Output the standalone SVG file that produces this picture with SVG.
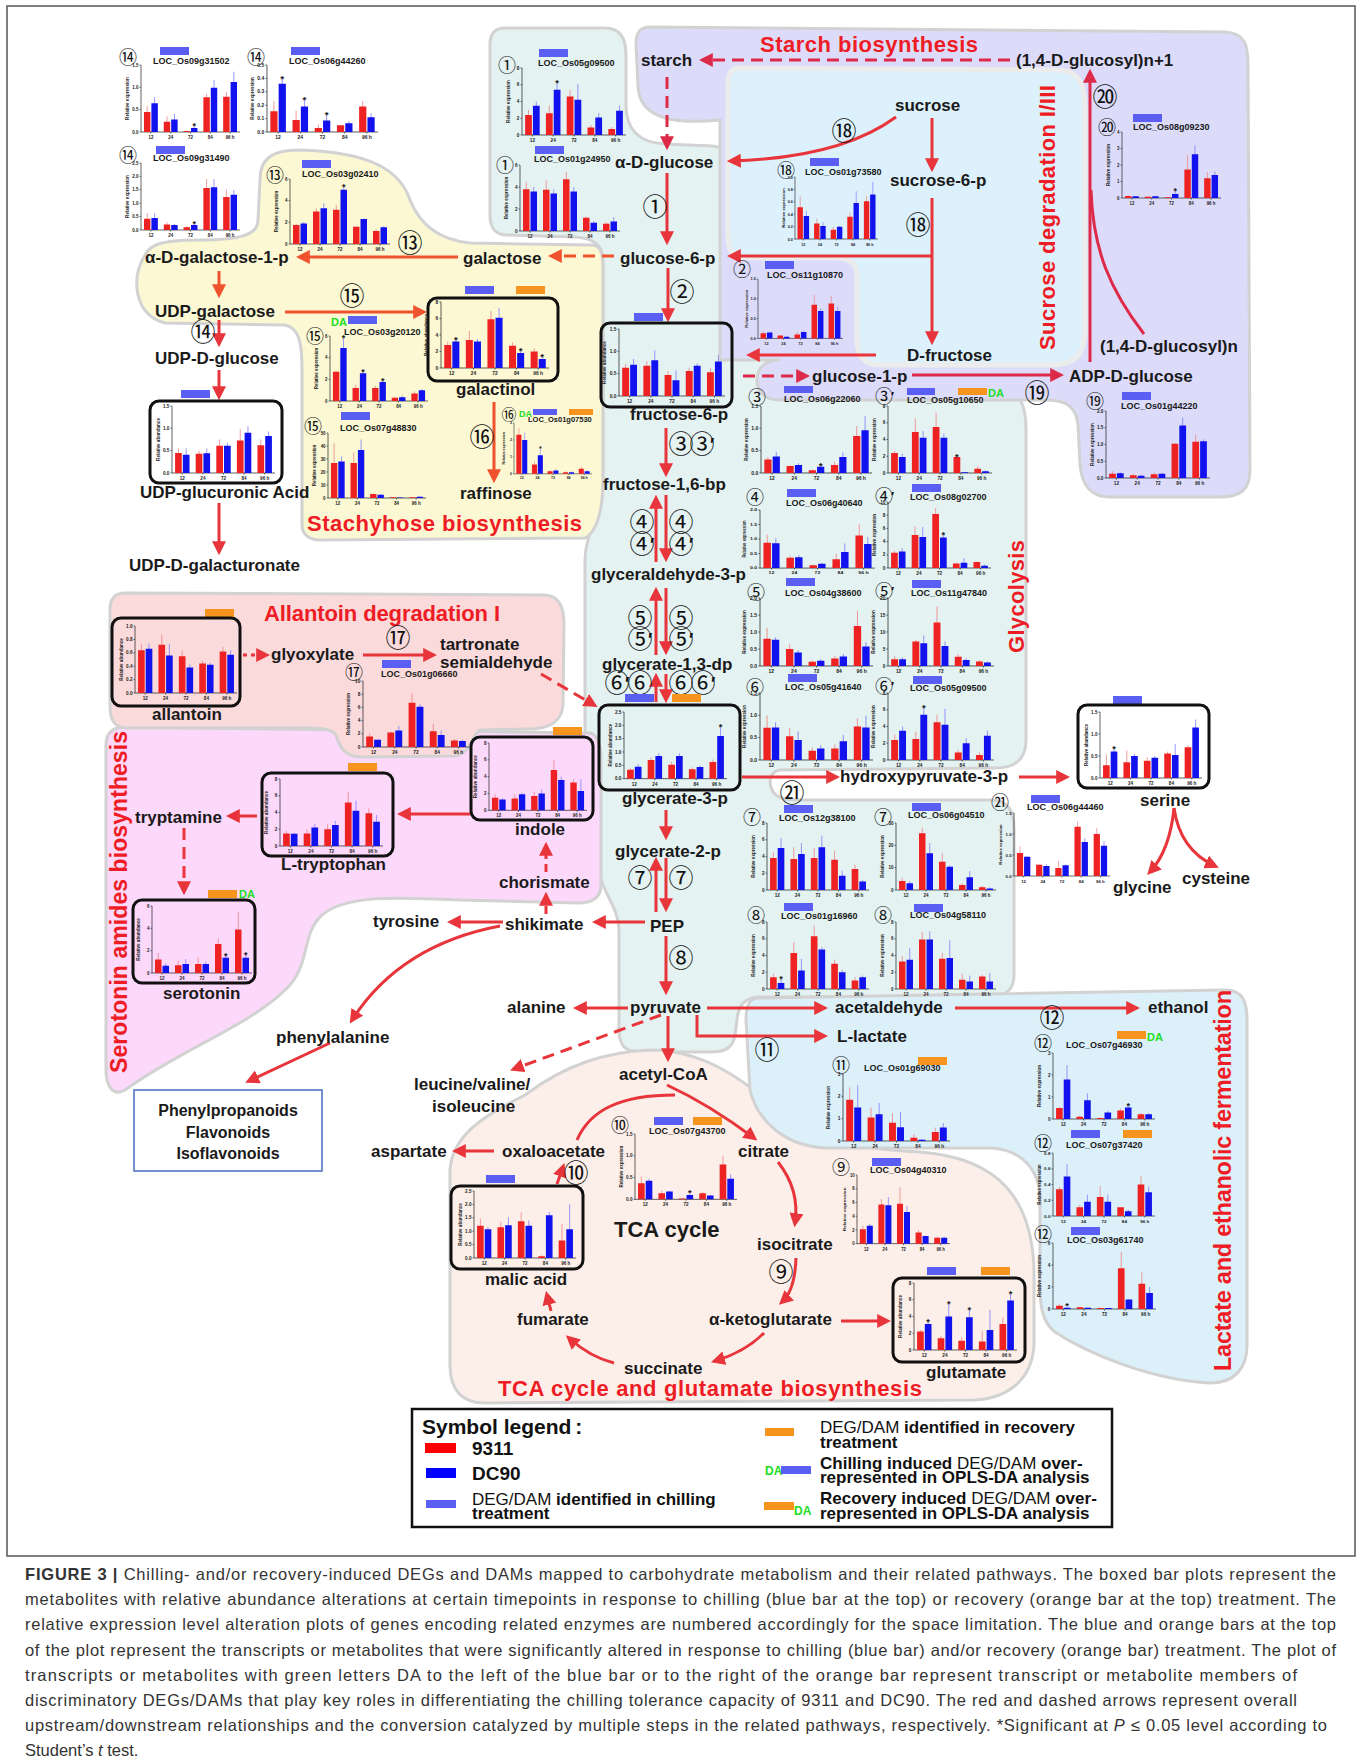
<svg xmlns="http://www.w3.org/2000/svg" width="1361" height="1764" viewBox="0 0 1361 1764">
<defs>
<style>
.n{font-family:"Liberation Sans",Arial,sans-serif;font-weight:bold;font-size:17px;fill:#1a1a1a}
.t{font-family:"Liberation Sans",Arial,sans-serif;font-weight:bold;font-size:22px;fill:#ee1c24}
.cn{font-family:"Noto Sans CJK SC","DejaVu Sans",sans-serif;font-size:25px;fill:#111;text-anchor:middle}
.cs{font-family:"Noto Sans CJK SC","DejaVu Sans",sans-serif;font-size:18px;fill:#111;text-anchor:middle}
.pr{font-family:"Liberation Sans",Arial,sans-serif;font-weight:bold;font-size:18px;fill:#111}
.prs{font-family:"Liberation Sans",Arial,sans-serif;font-weight:bold;font-size:13px;fill:#111}
.loc{font-family:"Liberation Sans",Arial,sans-serif;font-weight:bold;font-size:9px;fill:#1a1a1a}
.mb{fill:#5a5ef2}
.mo{fill:#f7941e}
.da{font-family:"Liberation Sans",Arial,sans-serif;font-weight:bold;font-size:11px;fill:#22dd22}
.ct{font-family:"Liberation Sans",Arial,sans-serif;font-size:4.5px;font-weight:bold;fill:#222}
.r{fill:#ee2222}
.b{fill:#1212ee}
.er{stroke:#f08585;stroke-width:0.8;fill:none}
.eb{stroke:#8080ff;stroke-width:0.8;fill:none}
.st{font-size:9px;text-anchor:middle}
.bx{fill:none;stroke:#111;stroke-width:3}
.c{fill:none;stroke:#e8353b;stroke-width:3}
.co{fill:none;stroke:#f0522d;stroke-width:3}
.cp{fill:none;stroke:#dc2a48;stroke-width:3}
.d{stroke-dasharray:12 7}
.rg{stroke:#d2d2d2;stroke-width:3}
.cap{font-family:"Liberation Sans",Arial,sans-serif;font-size:16.5px;fill:#333}
.lg{font-family:"Liberation Sans",Arial,sans-serif;font-weight:bold;font-size:17px;fill:#111}
</style>
<marker id="ah" viewBox="0 0 10 10" refX="7" refY="5" markerWidth="14" markerHeight="14" markerUnits="userSpaceOnUse" orient="auto"><path d="M0,0L10,5L0,10z" fill="#e8353b"/></marker>
<marker id="aho" viewBox="0 0 10 10" refX="7" refY="5" markerWidth="14" markerHeight="14" markerUnits="userSpaceOnUse" orient="auto"><path d="M0,0L10,5L0,10z" fill="#f0522d"/></marker>
<marker id="ahp" viewBox="0 0 10 10" refX="7" refY="5" markerWidth="14" markerHeight="14" markerUnits="userSpaceOnUse" orient="auto"><path d="M0,0L10,5L0,10z" fill="#dc2a48"/></marker>
<g id="fr"><path d="M0,0V66H100M10,66v1.5M30,66v1.5M50,66v1.5M70,66v1.5M90,66v1.5" stroke="#222" stroke-width="0.7" fill="none"/><g text-anchor="middle"><text x="10" y="73">12</text><text x="30" y="73">24</text><text x="50" y="73">72</text><text x="70" y="73">84</text><text x="90" y="73">96 h</text></g></g>
<path id="t6" d="M-1.5,0h1.5M-1.5,13.2h1.5M-1.5,26.4h1.5M-1.5,39.6h1.5M-1.5,52.8h1.5M-1.5,66h1.5" stroke="#222" stroke-width="0.6"/>
<path id="t5" d="M-1.5,0h1.5M-1.5,16.5h1.5M-1.5,33h1.5M-1.5,49.5h1.5M-1.5,66h1.5" stroke="#222" stroke-width="0.6"/>
<path id="t4" d="M-1.5,0h1.5M-1.5,22h1.5M-1.5,44h1.5M-1.5,66h1.5" stroke="#222" stroke-width="0.6"/>
<g id="y15" text-anchor="end"><use href="#t4"/><text x="-2.5" y="1.6">1.5</text><text x="-2.5" y="23.6">1.0</text><text x="-2.5" y="45.6">0.5</text><text x="-2.5" y="67.6">0.0</text></g>
<g id="y6" text-anchor="end"><use href="#t4"/><text x="-2.5" y="1.6">6</text><text x="-2.5" y="23.6">4</text><text x="-2.5" y="45.6">2</text><text x="-2.5" y="67.6">0</text></g>
<g id="y3" text-anchor="end"><use href="#t4"/><text x="-2.5" y="1.6">3</text><text x="-2.5" y="23.6">2</text><text x="-2.5" y="45.6">1</text><text x="-2.5" y="67.6">0</text></g>
<g id="y30" text-anchor="end"><use href="#t4"/><text x="-2.5" y="1.6">30</text><text x="-2.5" y="23.6">20</text><text x="-2.5" y="45.6">10</text><text x="-2.5" y="67.6">0</text></g>
<g id="y8" text-anchor="end"><use href="#t5"/><text x="-2.5" y="1.6">8</text><text x="-2.5" y="18.1">6</text><text x="-2.5" y="34.6">4</text><text x="-2.5" y="51.1">2</text><text x="-2.5" y="67.6">0</text></g>
<g id="y2" text-anchor="end"><use href="#t5"/><text x="-2.5" y="1.6">2.0</text><text x="-2.5" y="18.1">1.5</text><text x="-2.5" y="34.6">1.0</text><text x="-2.5" y="51.1">0.5</text><text x="-2.5" y="67.6">0.0</text></g>
<g id="y4" text-anchor="end"><use href="#t5"/><text x="-2.5" y="1.6">4</text><text x="-2.5" y="18.1">3</text><text x="-2.5" y="34.6">2</text><text x="-2.5" y="51.1">1</text><text x="-2.5" y="67.6">0</text></g>
<g id="y20" text-anchor="end"><use href="#t5"/><text x="-2.5" y="1.6">20</text><text x="-2.5" y="18.1">15</text><text x="-2.5" y="34.6">10</text><text x="-2.5" y="51.1">5</text><text x="-2.5" y="67.6">0</text></g>
<g id="y08" text-anchor="end"><use href="#t5"/><text x="-2.5" y="1.6">0.8</text><text x="-2.5" y="18.1">0.6</text><text x="-2.5" y="34.6">0.4</text><text x="-2.5" y="51.1">0.2</text><text x="-2.5" y="67.6">0.0</text></g>
<g id="y05" text-anchor="end"><use href="#t6"/><text x="-2.5" y="1.6">0.5</text><text x="-2.5" y="14.8">0.4</text><text x="-2.5" y="28">0.3</text><text x="-2.5" y="41.2">0.2</text><text x="-2.5" y="54.4">0.1</text><text x="-2.5" y="67.6">0.0</text></g>
<g id="y25" text-anchor="end"><use href="#t6"/><text x="-2.5" y="1.6">2.5</text><text x="-2.5" y="14.8">2.0</text><text x="-2.5" y="28">1.5</text><text x="-2.5" y="41.2">1.0</text><text x="-2.5" y="54.4">0.5</text><text x="-2.5" y="67.6">0.0</text></g>
<g id="y10" text-anchor="end"><use href="#t6"/><text x="-2.5" y="1.6">10</text><text x="-2.5" y="14.8">8</text><text x="-2.5" y="28">6</text><text x="-2.5" y="41.2">4</text><text x="-2.5" y="54.4">2</text><text x="-2.5" y="67.6">0</text></g>
<g id="y1" text-anchor="end"><use href="#t6"/><text x="-2.5" y="1.6">1.0</text><text x="-2.5" y="14.8">0.8</text><text x="-2.5" y="28">0.6</text><text x="-2.5" y="41.2">0.4</text><text x="-2.5" y="54.4">0.2</text><text x="-2.5" y="67.6">0.0</text></g>
<g id="y50" text-anchor="end"><use href="#t6"/><text x="-2.5" y="1.6">50</text><text x="-2.5" y="14.8">40</text><text x="-2.5" y="28">30</text><text x="-2.5" y="41.2">20</text><text x="-2.5" y="54.4">10</text><text x="-2.5" y="67.6">0</text></g>
<text id="yle" transform="rotate(-90)" x="-33" y="-12" text-anchor="middle">Relative expression</text>
<text id="yla" transform="rotate(-90)" x="-33" y="-12" text-anchor="middle">Relative abundance</text>
</defs>

<rect width="1361" height="1764" fill="#fff"/>
<rect x="7" y="6" width="1348" height="1550" fill="none" stroke="#555" stroke-width="1.5"/>

<g id="regions">
<path id="reg-glycolysis" class="rg" fill="#e4f2f1" d="M505,28L605,28C620,28 626,38 626,55L626,105C626,130 640,143 665,144L712,146C728,147 733,158 733,175L733,250C733,257 738,260 748,260L835,261C848,262 853,270 853,285L853,388L1000,388C1020,390 1026,405 1026,430L1026,740C1026,760 1015,768 995,768L780,770C770,772 768,780 772,790C776,798 785,800 800,800L990,800C1008,800 1014,810 1014,830L1014,975C1014,990 1005,997 990,997L760,997C745,997 738,1005 737,1020L735,1035C733,1048 725,1052 710,1052L640,1052C625,1052 619,1045 619,1030L619,930C619,905 598,890 598,860L598,800C598,780 585,760 585,730L585,560C585,535 600,515 603,490L603,260C603,245 592,238 575,237L508,235C495,235 490,228 490,215L490,45C490,33 495,28 505,28Z"/>
<path id="reg-starch" class="rg" fill="#dcdcfa" d="M650,27L1225,32C1245,33 1248,45 1248,65L1250,470C1250,490 1240,497 1220,497L1110,497C1090,497 1082,485 1080,465L1078,425C1076,405 1065,400 1045,400L780,400C762,400 757,390 757,380C757,368 765,360 780,360L720,360L720,120C700,122 680,122 665,118C645,112 638,100 638,85L636,45C636,32 640,27 650,27Z"/>
<path id="reg-sucrose" fill="#dcf1fb" stroke="#ececec" stroke-width="5" d="M740,68L1060,70C1080,72 1085,85 1085,110L1085,330C1085,355 1075,365 1050,365L880,365C862,365 857,355 857,340L857,275C857,262 848,258 835,258L745,258C732,258 728,250 728,235L728,85C728,72 732,68 740,68Z"/>
<path id="reg-stachyose" class="rg" fill="#fbf8d3" d="M145,255C130,280 135,315 165,323L285,325C300,328 302,345 302,370L302,525C302,535 310,540 320,540L585,538C600,530 603,500 603,480L603,270C603,250 600,245 590,245L470,243C440,240 420,225 410,200C400,170 370,152 300,150C270,150 260,160 260,180L258,220C258,235 240,240 200,240C160,240 150,245 145,255Z"/>
<path id="reg-serotonin" class="rg" fill="#fcd8fa" d="M125,727L590,733C598,735 601,745 601,760L601,885C601,897 593,903 578,903L460,900C395,897 345,895 322,915C300,935 312,965 285,990C250,1025 180,1050 125,1090C112,1097 106,1085 106,1070L106,745C106,733 112,727 125,727Z"/>
<path id="reg-allantoin" class="rg" fill="#fadadb" d="M125,593L545,595C560,596 564,608 564,625L563,705C562,722 548,729 528,729L480,730C472,735 472,752 455,756L362,757C345,757 340,748 336,735C333,730 325,728 310,728L128,728C114,728 110,720 110,705L110,610C110,598 115,593 125,593Z"/>
<path id="reg-tca" class="rg" fill="#fcefe9" d="M525,1095C565,1065 605,1052 650,1050C705,1050 745,1080 790,1120C815,1140 850,1148 920,1152C1000,1158 1032,1200 1034,1270L1034,1345C1032,1378 1010,1398 975,1400L485,1403C462,1403 450,1390 450,1365L450,1170C452,1135 485,1115 525,1095Z"/>
<path id="reg-fermentation" class="rg" fill="#dcf0fa" d="M758,998L1225,990C1243,990 1247,1002 1247,1020L1247,1345C1247,1368 1235,1383 1210,1383C1150,1380 1085,1352 1055,1332C1042,1322 1040,1305 1040,1285L1040,1200C1040,1170 1022,1150 992,1148L830,1148C785,1148 757,1120 750,1090L746,1020C746,1005 750,998 758,998Z"/>
</g>

<g id="region-titles">
<text class="t" x="760" y="52" textLength="218">Starch biosynthesis</text>
<text class="t" x="1055" y="350" transform="rotate(-90 1055 350)" textLength="265">Sucrose degradation I/III</text>
<text class="t" x="1024" y="653" transform="rotate(-90 1024 653)" textLength="113">Glycolysis</text>
<text class="t" x="307" y="531" textLength="275">Stachyhose biosynthesis</text>
<text class="t" x="264" y="621" textLength="236">Allantoin degradation I</text>
<text class="t" x="127" y="1073" transform="rotate(-90 127 1073)" style="font-size:23px" textLength="342">Serotonin amides biosynthesis</text>
<text class="t" x="1231" y="1371" transform="rotate(-90 1231 1371)" style="font-size:23.5px" textLength="381">Lactate and ethanolic fermentation</text>
<text class="t" x="498" y="1396" textLength="424">TCA cycle and glutamate biosynthesis</text>
</g>

<g id="connectors">
<path class="co" marker-end="url(#aho)" d="M458,257H300"/>
<path class="co" marker-end="url(#aho)" d="M219,271V294"/>
<path class="co" marker-end="url(#aho)" d="M285,312H423"/>
<path class="c" marker-end="url(#ah)" d="M219,320V343"/>
<path class="c" marker-end="url(#ah)" d="M219,370V396"/>
<path class="c" marker-end="url(#ah)" d="M219,503V551"/>
<path class="co" marker-end="url(#aho)" d="M494,402V479"/>
<path class="co d" marker-end="url(#aho)" d="M614,256H552"/>
<path class="cp d" marker-end="url(#ahp)" d="M667,77V146"/>
<path class="cp d" marker-end="url(#ahp)" d="M1010,60H703"/>
<path class="c" marker-end="url(#ah)" d="M896,117Q840,158 731,161"/>
<path class="c" marker-end="url(#ah)" d="M932,118V168"/>
<path class="c" marker-end="url(#ah)" d="M932,198V341"/>
<path class="c" marker-end="url(#ah)" d="M932,256H731"/>
<path class="c" marker-end="url(#ah)" d="M667,173V241"/>
<path class="c" marker-end="url(#ah)" d="M668,268V318"/>
<path class="c" marker-end="url(#ah)" d="M876,355H750"/>
<path class="cp d" marker-end="url(#ahp)" d="M743,376H806"/>
<path class="cp" marker-end="url(#ahp)" d="M912,375H1060"/>
<path class="cp" marker-end="url(#ahp)" d="M1090,362V73"/>
<path class="cp" d="M1144,334C1110,290 1093,250 1091,190"/>
<path class="c" marker-end="url(#ah)" d="M666,428V473"/>
<path class="c" marker-end="url(#ah)" d="M656,562V499"/>
<path class="c" marker-end="url(#ah)" d="M666,495V558"/>
<path class="c" marker-end="url(#ah)" d="M656,655V591"/>
<path class="c" marker-end="url(#ah)" d="M666,588V651"/>
<path class="c" marker-end="url(#ah)" d="M656,702V677"/>
<path class="c" marker-end="url(#ah)" d="M666,674V699"/>
<path class="c" marker-end="url(#ah)" d="M666,810V836"/>
<path class="c" marker-end="url(#ah)" d="M656,912V861"/>
<path class="c" marker-end="url(#ah)" d="M666,858V908"/>
<path class="c" marker-end="url(#ah)" d="M666,936V991"/>
<path class="c" marker-end="url(#ah)" d="M645,922H596"/>
<path class="c" marker-end="url(#ah)" d="M503,922H451"/>
<path class="c" marker-end="url(#ah)" d="M500,926Q400,945 352,1020"/>
<path class="c" marker-end="url(#ah)" d="M330,1043L249,1081"/>
<path class="c" marker-end="url(#ah)" d="M546,914V896" style="stroke-dasharray:8 5"/>
<path class="c" marker-end="url(#ah)" d="M546,872V846" style="stroke-dasharray:8 5"/>
<path class="c" marker-end="url(#ah)" d="M470,814H401"/>
<path class="c" marker-end="url(#ah)" d="M257,816H230"/>
<path class="c d" marker-end="url(#ah)" d="M184,828V891"/>
<path class="c" marker-end="url(#ah)" d="M243,655H266" style="stroke-dasharray:4 4"/>
<path class="c" marker-end="url(#ah)" d="M363,655H433"/>
<path class="c d" marker-end="url(#ah)" d="M541,674L594,705"/>
<path class="c" marker-end="url(#ah)" d="M742,777H836"/>
<path class="c" marker-end="url(#ah)" d="M1019,777H1066"/>
<path class="c" marker-end="url(#ah)" d="M1174,808Q1170,850 1150,872"/>
<path class="c" marker-end="url(#ah)" d="M1174,808Q1180,850 1215,866"/>
<path class="c" marker-end="url(#ah)" d="M628,1008H577"/>
<path class="c" marker-end="url(#ah)" d="M707,1008H824"/>
<path class="c" marker-end="url(#ah)" d="M697,1015V1036H824"/>
<path class="c d" marker-end="url(#ah)" d="M661,1015L514,1069"/>
<path class="c" marker-end="url(#ah)" d="M668,1016V1058"/>
<path class="c" marker-end="url(#ah)" d="M955,1008H1136"/>
<path class="c" marker-end="url(#ah)" d="M667,1085Q710,1105 754,1138"/>
<path class="c" d="M577,1140C590,1110 620,1095 675,1095"/>
<path class="c" marker-end="url(#ah)" d="M494,1151H456"/>
<path class="c" marker-end="url(#ah)" d="M778,1162Q800,1190 795,1223"/>
<path class="c" marker-end="url(#ah)" d="M796,1258Q795,1290 782,1302"/>
<path class="c" marker-end="url(#ah)" d="M764,1333Q745,1352 715,1361"/>
<path class="c" marker-end="url(#ah)" d="M614,1363Q590,1357 569,1338"/>
<path class="c" marker-end="url(#ah)" d="M551,1311L547,1295"/>
<path class="c" marker-end="url(#ah)" d="M557,1184L563,1167"/>
<path class="c" marker-end="url(#ah)" d="M841,1321H887"/>
</g>

<g id="step-labels">
<text class="cn" x="410" y="252">⑬</text>
<text class="cn" x="352" y="305">⑮</text>
<text class="cn" x="203" y="341">⑭</text>
<text class="cn" x="482" y="446">⑯</text>
<text class="cn" x="398" y="647">⑰</text>
<text class="cn" x="655" y="216">①</text>
<text class="cn" x="682" y="301">②</text>
<text class="cn" x="681" y="453">③</text><text class="cn" x="702" y="453">③</text><text class="pr" x="710" y="451">′</text>
<text class="cn" x="642" y="531">④</text><text class="cn" x="681" y="531">④</text>
<text class="cn" x="642" y="553">④</text><text class="pr" x="650" y="551">′</text><text class="cn" x="681" y="553">④</text><text class="pr" x="689" y="551">′</text>
<text class="cn" x="640" y="627">⑤</text><text class="cn" x="681" y="627">⑤</text>
<text class="cn" x="640" y="648">⑤</text><text class="pr" x="648" y="646">′</text><text class="cn" x="681" y="648">⑤</text><text class="pr" x="689" y="646">′</text>
<text class="cn" x="617" y="692">⑥</text><text class="pr" x="625" y="690">′</text><text class="cn" x="640" y="692">⑥</text><text class="cn" x="681" y="692">⑥</text><text class="cn" x="703" y="692">⑥</text><text class="pr" x="711" y="690">′</text>
<text class="cn" x="640" y="887">⑦</text><text class="cn" x="681" y="887">⑦</text>
<text class="cn" x="681" y="967">⑧</text>
<text class="cn" x="781" y="1281">⑨</text>
<text class="cn" x="576" y="1182">⑩</text>
<text class="cn" x="767" y="1059">⑪</text>
<text class="cn" x="1052" y="1027">⑫</text>
<text class="cn" x="844" y="140">⑱</text>
<text class="cn" x="918" y="234">⑱</text>
<text class="cn" x="1037" y="402">⑲</text>
<text class="cn" x="1105" y="106">⑳</text>
<text class="cn" x="792" y="802">㉑</text>
</g>

<g id="compounds">
<g id="node-starch"><text class="n" x="641" y="66">starch</text></g>
<g id="node-glucosyl-n1"><text class="n" x="1016" y="66">(1,4-D-glucosyl)n+1</text></g>
<g id="node-sucrose"><text class="n" x="895" y="111">sucrose</text></g>
<g id="node-sucrose-6-p"><text class="n" x="890" y="186">sucrose-6-p</text></g>
<g id="node-d-fructose"><text class="n" x="907" y="361">D-fructose</text></g>
<g id="node-glucosyl-n"><text class="n" x="1100" y="352">(1,4-D-glucosyl)n</text></g>
<g id="node-adp-glucose"><text class="n" x="1069" y="382">ADP-D-glucose</text></g>
<g id="node-glucose-1-p"><text class="n" x="812" y="382">glucose-1-p</text></g>
<g id="node-a-glucose"><text class="n" x="615" y="168">α-D-glucose</text></g>
<g id="node-glucose-6-p"><text class="n" x="620" y="264">glucose-6-p</text></g>
<g id="node-galactose"><text class="n" x="463" y="264">galactose</text></g>
<g id="node-galactose-1-p"><text class="n" x="145" y="263">α-D-galactose-1-p</text></g>
<g id="node-udp-galactose"><text class="n" x="155" y="317">UDP-galactose</text></g>
<g id="node-udp-glucose"><text class="n" x="155" y="364">UDP-D-glucose</text></g>
<g id="node-udp-galacturonate"><text class="n" x="129" y="571">UDP-D-galacturonate</text></g>
<g id="node-raffinose"><text class="n" x="460" y="499">raffinose</text></g>
<g id="node-fructose-16-bp"><text class="n" x="603" y="490">fructose-1,6-bp</text></g>
<g id="node-gap"><text class="n" x="591" y="580">glyceraldehyde-3-p</text></g>
<g id="node-bpg"><text class="n" x="602" y="670">glycerate-1,3-dp</text></g>
<g id="node-2pg"><text class="n" x="615" y="857">glycerate-2-p</text></g>
<g id="node-pep"><text class="n" x="650" y="932">PEP</text></g>
<g id="node-pyruvate"><text class="n" x="630" y="1013">pyruvate</text></g>
<g id="node-alanine"><text class="n" x="507" y="1013">alanine</text></g>
<g id="node-acetaldehyde"><text class="n" x="835" y="1013">acetaldehyde</text></g>
<g id="node-lactate"><text class="n" x="837" y="1042">L-lactate</text></g>
<g id="node-ethanol"><text class="n" x="1148" y="1013">ethanol</text></g>
<g id="node-acetyl-coa"><text class="n" x="619" y="1080">acetyl-CoA</text></g>
<g id="node-bcaa"><text class="n" x="414" y="1090">leucine/valine/</text><text class="n" x="432" y="1112">isoleucine</text></g>
<g id="node-aspartate"><text class="n" x="371" y="1157">aspartate</text></g>
<g id="node-oxaloacetate"><text class="n" x="502" y="1157">oxaloacetate</text></g>
<g id="node-citrate"><text class="n" x="738" y="1157">citrate</text></g>
<g id="node-tca"><text class="n" x="614" y="1237" style="font-size:22px">TCA cycle</text></g>
<g id="node-isocitrate"><text class="n" x="757" y="1250">isocitrate</text></g>
<g id="node-akg"><text class="n" x="709" y="1325">α-ketoglutarate</text></g>
<g id="node-succinate"><text class="n" x="624" y="1374">succinate</text></g>
<g id="node-fumarate"><text class="n" x="517" y="1325">fumarate</text></g>
<g id="node-hydroxypyruvate"><text class="n" x="840" y="782">hydroxypyruvate-3-p</text></g>
<g id="node-glycine"><text class="n" x="1113" y="893">glycine</text></g>
<g id="node-cysteine"><text class="n" x="1182" y="884">cysteine</text></g>
<g id="node-shikimate"><text class="n" x="505" y="930">shikimate</text></g>
<g id="node-chorismate"><text class="n" x="499" y="888">chorismate</text></g>
<g id="node-tyrosine"><text class="n" x="373" y="927">tyrosine</text></g>
<g id="node-phenylalanine"><text class="n" x="276" y="1043">phenylalanine</text></g>
<g id="node-tryptamine"><text class="n" x="135" y="823">tryptamine</text></g>
<g id="node-glyoxylate"><text class="n" x="271" y="660">glyoxylate</text></g>
<g id="node-tartronate"><text class="n" x="440" y="650">tartronate</text><text class="n" x="440" y="668">semialdehyde</text></g>
<g id="node-phenylpropanoids"><rect x="134" y="1090" width="188" height="81" fill="#fff" stroke="#4a6bbf" stroke-width="1.5"/><text class="n" x="228" y="1116" text-anchor="middle" style="font-size:16px">Phenylpropanoids</text><text class="n" x="228" y="1138" text-anchor="middle" style="font-size:16px">Flavonoids</text><text class="n" x="228" y="1159" text-anchor="middle" style="font-size:16px">Isoflavonoids</text></g>
</g>

<g id="gene-plots">
<g id="plot-14a"><text class="cs" x="128" y="64">⑭</text><rect class="mb" x="160" y="47" width="29" height="8"/><text class="loc" x="153" y="64">LOC_Os09g31502</text>
<g class="ct" transform="translate(141,65) scale(0.99,1.015)"><use href="#fr"/><use href="#y15"/><use href="#yle"/>
<path class="er" d="M6.25,66v-25.5m20,25.5v-15.4m20,15.4v-1.5m20,1.5v-37.4m20,37.4v-39.6"/><path class="eb" d="M13.75,66v-34.3m20,34.3v-18m20,18v-6.6m20,6.6v-51.5m20,51.5v-59.4"/>
<path class="r" d="M3,66v-19.8h6.5v19.8zm20,0v-10.1h6.5v10.1zm20,0v-0.9h6.5v0.9zm20,0v-34.3h6.5v34.3zm20,0v-34.8h6.5v34.8z"/><path class="b" d="M10.5,66v-28.2h6.5v28.2zm20,0v-12.3h6.5v12.3zm20,0v-4h6.5v4zm20,0v-43.6h6.5v43.6zm20,0v-49.3h6.5v49.3z"/>
<text class="st" x="53.75" y="62.9">*</text></g></g>

<g id="plot-14b"><text class="cs" x="256" y="64">⑭</text><rect class="mb" x="291" y="47" width="29" height="8"/><text class="loc" x="289" y="64">LOC_Os06g44260</text>
<g class="ct" transform="translate(267,65) scale(1.11,1.015)"><use href="#fr"/><use href="#y05"/><use href="#yle"/>
<path class="er" d="M6.25,66v-30.4m20,30.4v-21.1m20,21.1v-7.3m20,7.3v-6.6m20,6.6v-30.4"/><path class="eb" d="M13.75,66v-52.8m20,52.8v-31.7m20,31.7v-17.2m20,17.2v-10.6m20,10.6v-18.5"/>
<path class="r" d="M3,66v-20.5h6.5v20.5zm20,0v-11.9h6.5v11.9zm20,0v-4h6.5v4zm20,0v-6.6h6.5v6.6zm20,0v-25.1h6.5v25.1z"/><path class="b" d="M10.5,66v-47.5h6.5v47.5zm20,0v-25.1h6.5v25.1zm20,0v-11.2h6.5v11.2zm20,0v-8.6h6.5v8.6zm20,0v-14.5h6.5v14.5z"/>
<text class="st" x="13.75" y="16.7">*</text><text class="st" x="33.75" y="37.8">*</text><text class="st" x="53.75" y="52.3">*</text></g></g>

<g id="plot-14c"><text class="cs" x="128" y="162">⑭</text><rect class="mb" x="156" y="146" width="29" height="8"/><text class="loc" x="153" y="161">LOC_Os09g31490</text>
<g class="ct" transform="translate(141,163) scale(0.99,1.015)"><use href="#fr"/><use href="#y25"/><use href="#yle"/>
<path class="er" d="M6.25,66v-16.6m20,16.6v-7.4m20,7.4v-4m20,4v-50.2m20,50.2v-40.1"/><path class="eb" d="M13.75,66v-16.4m20,16.4v-5.8m20,5.8v-6.6m20,6.6v-50.2m20,50.2v-39.6"/>
<path class="r" d="M3,66v-11.1h6.5v11.1zm20,0v-5.3h6.5v5.3zm20,0v-2.6h6.5v2.6zm20,0v-41.4h6.5v41.4zm20,0v-32.5h6.5v32.5z"/><path class="b" d="M10.5,66v-11.9h6.5v11.9zm20,0v-5h6.5v5zm20,0v-4.8h6.5v4.8zm20,0v-42.2h6.5v42.2zm20,0v-34.6h6.5v34.6z"/>
<text class="st" x="53.75" y="62.9">*</text></g></g>

<g id="plot-13"><text class="cs" x="275" y="182">⑬</text><rect class="mb" x="302" y="160" width="29" height="8"/><text class="loc" x="302" y="177">LOC_Os03g02410</text>
<g class="ct" transform="translate(290,179) scale(1,0.985)"><use href="#fr"/><use href="#y6"/><use href="#yle"/>
<path class="er" d="M6.25,66v-20.4m20,20.4v-36.3m20,36.3v-39.6m20,39.6v-18.2m20,18.2v-14.9"/><path class="eb" d="M13.75,66v-22.6m20,22.6v-41.3m20,41.3v-58m20,58v-25.9m20,25.9v-18.2"/>
<path class="r" d="M3,66v-19.3h6.5v19.3zm20,0v-33h6.5v33zm20,0v-34.7h6.5v34.7zm20,0v-17.6h6.5v17.6zm20,0v-13.2h6.5v13.2z"/><path class="b" d="M10.5,66v-20.9h6.5v20.9zm20,0v-36.3h6.5v36.3zm20,0v-55h6.5v55zm20,0v-25.3h6.5v25.3zm20,0v-17.1h6.5v17.1z"/>
<text class="st" x="53.75" y="11.5">*</text></g></g>

<g id="plot-1a"><text class="cs" x="507" y="72">①</text><rect class="mb" x="539" y="49" width="29" height="8"/><text class="loc" x="538" y="66">LOC_Os05g09500</text>
<g class="ct" transform="translate(522,68) scale(1.04,1.015)"><use href="#fr"/><use href="#y8"/><use href="#yle"/>
<path class="er" d="M6.25,66v-24.8m20,24.8v-28.9m20,28.9v-44.6m20,44.6v-9.9m20,9.9v-7.8"/><path class="eb" d="M13.75,66v-33m20,33v-52m20,52v-50.3m20,50.3v-21.5m20,21.5v-28.9"/>
<path class="r" d="M3,66v-19.8h6.5v19.8zm20,0v-21.5h6.5v21.5zm20,0v-38h6.5v38zm20,0v-7.4h6.5v7.4zm20,0v-5.8h6.5v5.8z"/><path class="b" d="M10.5,66v-28.9h6.5v28.9zm20,0v-44.6h6.5v44.6zm20,0v-34.7h6.5v34.7zm20,0v-17.3h6.5v17.3zm20,0v-23.9h6.5v23.9z"/>
<text class="st" x="33.75" y="17.5">*</text></g></g>

<g id="plot-1b"><text class="cs" x="505" y="172">①</text><rect class="mb" x="535" y="146" width="29" height="8"/><text class="loc" x="534" y="162">LOC_Os01g24950</text>
<g class="ct" transform="translate(520,165)"><use href="#fr"/><use href="#y6"/><use href="#yle"/>
<path class="er" d="M6.25,66v-49.5m20,49.5v-50.6m20,50.6v-59.4m20,59.4v-14.3m20,14.3v-8.8"/><path class="eb" d="M13.75,66v-44m20,44v-41.8m20,41.8v-44m20,44v-9.9m20,9.9v-13.8"/>
<path class="r" d="M3,66v-41.8h6.5v41.8zm20,0v-41.3h6.5v41.3zm20,0v-51.7h6.5v51.7zm20,0v-13.2h6.5v13.2zm20,0v-7.2h6.5v7.2z"/><path class="b" d="M10.5,66v-39.6h6.5v39.6zm20,0v-37.4h6.5v37.4zm20,0v-39.6h6.5v39.6zm20,0v-8.3h6.5v8.3zm20,0v-9.4h6.5v9.4z"/></g></g>

<g id="plot-18"><text class="cs" x="786" y="177">⑱</text><rect class="mb" x="810" y="158" width="29" height="8"/><text class="loc" x="805" y="175">LOC_Os01g73580</text>
<g class="ct" transform="translate(795,177) scale(0.83,0.94)"><use href="#fr"/><use href="#y1"/><use href="#yle"/>
<path class="er" d="M6.25,66v-45.5m20,45.5v-21.8m20,21.8v-13.2m20,13.2v-28.4m20,28.4v-45.5"/><path class="eb" d="M13.75,66v-29.7m20,29.7v-17.8m20,17.8v-13.9m20,13.9v-50.8m20,50.8v-60.7"/>
<path class="r" d="M3,66v-33.7h6.5v33.7zm20,0v-16.5h6.5v16.5zm20,0v-9.9h6.5v9.9zm20,0v-23.8h6.5v23.8zm20,0v-40.3h6.5v40.3z"/><path class="b" d="M10.5,66v-24.4h6.5v24.4zm20,0v-13.9h6.5v13.9zm20,0v-13.2h6.5v13.2zm20,0v-38.3h6.5v38.3zm20,0v-47.5h6.5v47.5z"/></g></g>

<g id="plot-2"><text class="cs" x="742" y="276">②</text><rect class="mb" x="765" y="261" width="29" height="8"/><text class="loc" x="767" y="278">LOC_Os11g10870</text>
<g class="ct" transform="translate(758,279) scale(0.85,0.9)"><use href="#fr"/><use href="#y15"/><use href="#yle"/>
<path class="er" d="M6.25,66v-7.9m20,7.9v-3.5m20,3.5v-7.5m20,7.5v-48.4m20,48.4v-47.5"/><path class="eb" d="M13.75,66v-7.5m20,7.5v-2.2m20,2.2v-8.8m20,8.8v-33.4m20,33.4v-35.2"/>
<path class="r" d="M3,66v-5.7h6.5v5.7zm20,0v-3.1h6.5v3.1zm20,0v-4.4h6.5v4.4zm20,0v-37.4h6.5v37.4zm20,0v-38.7h6.5v38.7z"/><path class="b" d="M10.5,66v-6.6h6.5v6.6zm20,0v-1.8h6.5v1.8zm20,0v-7h6.5v7zm20,0v-30.4h6.5v30.4zm20,0v-30.4h6.5v30.4z"/></g></g>

<g id="plot-20"><text class="cs" x="1107" y="134">⑳</text><rect class="mb" x="1133" y="114" width="29" height="8"/><text class="loc" x="1133" y="130">LOC_Os08g09230</text>
<g class="ct" transform="translate(1122,132) scale(0.99,1)"><use href="#fr"/><use href="#y4"/><use href="#yle"/>
<path class="er" d="M6.25,66v-2.5m20,2.5v-1.7m20,1.7v-1.2m20,1.2v-42.9m20,42.9v-25.6"/><path class="eb" d="M13.75,66v-2m20,2v-2m20,2v-7.4m20,7.4v-52.8m20,52.8v-26.4"/>
<path class="r" d="M3,66v-2h6.5v2zm20,0v-1.2h6.5v1.2zm20,0v-0.8h6.5v0.8zm20,0v-28.4h6.5v28.4zm20,0v-19.8h6.5v19.8z"/><path class="b" d="M10.5,66v-1.7h6.5v1.7zm20,0v-1.7h6.5v1.7zm20,0v-4.1h6.5v4.1zm20,0v-43.7h6.5v43.7zm20,0v-23.1h6.5v23.1z"/>
<text class="st" x="53.75" y="62.1">*</text></g></g>

<g id="plot-15a"><text class="cs" x="315" y="343">⑮</text><text class="da" x="331" y="326">DA</text><rect class="mb" x="348" y="316" width="29" height="8"/><text class="loc" x="344" y="335">LOC_Os03g20120</text>
<g class="ct" transform="translate(330,336) scale(0.98,0.985)"><use href="#fr"/><use href="#y6"/><use href="#yle"/>
<path class="er" d="M6.25,66v-30.8m20,30.8v-16.5m20,16.5v-15.4m20,15.4v-4.4m20,4.4v-9.9"/><path class="eb" d="M13.75,66v-64.9m20,64.9v-29.7m20,29.7v-20.9m20,20.9v-5.5m20,5.5v-12.1"/>
<path class="r" d="M3,66v-29.7h6.5v29.7zm20,0v-13.2h6.5v13.2zm20,0v-13.2h6.5v13.2zm20,0v-3.3h6.5v3.3zm20,0v-7.7h6.5v7.7z"/><path class="b" d="M10.5,66v-53.9h6.5v53.9zm20,0v-28.1h6.5v28.1zm20,0v-19.3h6.5v19.3zm20,0v-3.9h6.5v3.9zm20,0v-11h6.5v11z"/>
<text class="st" x="13.75" y="4.6">*</text><text class="st" x="33.75" y="39.8">*</text><text class="st" x="53.75" y="48.6">*</text></g></g>

<g id="plot-15b"><text class="cs" x="313" y="433">⑮</text><rect class="mb" x="341" y="412" width="29" height="8"/><text class="loc" x="340" y="431">LOC_Os07g48830</text>
<g class="ct" transform="translate(328,433) scale(0.98,0.985)"><use href="#fr"/><use href="#y50"/><use href="#yle"/>
<path class="er" d="M6.25,66v-55.4m20,55.4v-46.2m20,46.2v-4.6m20,4.6v-0.9m20,0.9v-1.1"/><path class="eb" d="M13.75,66v-42.2m20,42.2v-59.4m20,59.4v-4m20,4v-0.7m20,0.7v-1.6"/>
<path class="r" d="M3,66v-35.6h6.5v35.6zm20,0v-35.6h6.5v35.6zm20,0v-4h6.5v4zm20,0v-0.7h6.5v0.7zm20,0v-0.7h6.5v0.7z"/><path class="b" d="M10.5,66v-37h6.5v37zm20,0v-48.8h6.5v48.8zm20,0v-3.3h6.5v3.3zm20,0v-0.4h6.5v0.4zm20,0v-1.3h6.5v1.3z"/></g></g>

<g id="plot-16"><text class="cs" x="509" y="420" style="font-size:15px">⑯</text><text class="da" x="519" y="417" style="font-size:9px">DA</text><rect class="mb" x="533" y="409" width="24" height="6"/><rect class="mo" x="569" y="409" width="24" height="6"/><text class="loc" x="528" y="422" style="font-size:7.5px">LOC_Os01g07530</text>
<g class="ct" transform="translate(514,423) scale(0.78,0.77)"><use href="#fr"/><use href="#y3"/><use href="#yle"/>
<path class="er" d="M6.25,66v-59.4m20,59.4v-16.5m20,16.5v-4.4m20,4.4v-3.3m20,3.3v-8.8"/><path class="eb" d="M13.75,66v-53.9m20,53.9v-33m20,33v-5.5m20,5.5v-3.3m20,3.3v-4.4"/>
<path class="r" d="M3,66v-50.6h6.5v50.6zm20,0v-12.1h6.5v12.1zm20,0v-3.3h6.5v3.3zm20,0v-2.2h6.5v2.2zm20,0v-6.6h6.5v6.6z"/><path class="b" d="M10.5,66v-44h6.5v44zm20,0v-24.2h6.5v24.2zm20,0v-4.4h6.5v4.4zm20,0v-2.2h6.5v2.2zm20,0v-3.3h6.5v3.3z"/>
<text class="st" x="33.75" y="36.5">*</text></g></g>

<g id="plot-19"><text class="cs" x="1095" y="408">⑲</text><rect class="mb" x="1122" y="392" width="29" height="8"/><text class="loc" x="1121" y="409">LOC_Os01g44220</text>
<g class="ct" transform="translate(1106,411) scale(1.04,1.015)"><use href="#fr"/><use href="#y2"/><use href="#yle"/>
<path class="er" d="M6.25,66v-6.6m20,6.6v-4.3m20,4.3v-5m20,5v-34.7m20,34.7v-42.9"/><path class="eb" d="M13.75,66v-5.6m20,5.6v-3.3m20,3.3v-5.3m20,5.3v-59.4m20,59.4v-38"/>
<path class="r" d="M3,66v-4.3h6.5v4.3zm20,0v-2.6h6.5v2.6zm20,0v-3.6h6.5v3.6zm20,0v-33.7h6.5v33.7zm20,0v-35.6h6.5v35.6z"/><path class="b" d="M10.5,66v-4.6h6.5v4.6zm20,0v-2.3h6.5v2.3zm20,0v-4.3h6.5v4.3zm20,0v-51.8h6.5v51.8zm20,0v-36.3h6.5v36.3z"/></g></g>

<g id="plot-3"><text class="cs" x="757" y="404">③</text><rect class="mb" x="784" y="386" width="29" height="7"/><text class="loc" x="784" y="402">LOC_Os06g22060</text>
<g class="ct" transform="translate(761,406) scale(1.11,1.015)"><use href="#fr"/><use href="#y15"/><use href="#yle"/>
<path class="er" d="M6.25,66v-15.8m20,15.8v-7.5m20,7.5v-3.1m20,3.1v-11m20,11v-46.2"/><path class="eb" d="M13.75,66v-20.7m20,20.7v-9.7m20,9.7v-7.5m20,7.5v-20.2m20,20.2v-55.9"/>
<path class="r" d="M3,66v-13.2h6.5v13.2zm20,0v-7h6.5v7zm20,0v-2.6h6.5v2.6zm20,0v-7.9h6.5v7.9zm20,0v-36.5h6.5v36.5z"/><path class="b" d="M10.5,66v-16.3h6.5v16.3zm20,0v-7.9h6.5v7.9zm20,0v-6.2h6.5v6.2zm20,0v-15.8h6.5v15.8zm20,0v-42.2h6.5v42.2z"/>
<text class="st" x="53.75" y="62">*</text></g></g>

<g id="plot-3p"><text class="cs" x="884" y="403">③</text><text class="prs" x="891" y="401">′</text><rect class="mb" x="907" y="388" width="28" height="7"/><rect class="mo" x="958" y="388" width="29" height="7"/><text class="da" x="988" y="397">DA</text><text class="loc" x="907" y="403">LOC_Os05g10650</text>
<g class="ct" transform="translate(888,406) scale(1.04,1.015)"><use href="#fr"/><use href="#y8"/><use href="#yle"/>
<path class="er" d="M6.25,66v-21.5m20,21.5v-53.6m20,53.6v-59.4m20,59.4v-16.5m20,16.5v-6.6"/><path class="eb" d="M13.75,66v-19m20,19v-41.3m20,41.3v-38.8m20,38.8v-1.2m20,1.2v-2.5"/>
<path class="r" d="M3,66v-19.8h6.5v19.8zm20,0v-40.4h6.5v40.4zm20,0v-45.4h6.5v45.4zm20,0v-15.7h6.5v15.7zm20,0v-4.1h6.5v4.1z"/><path class="b" d="M10.5,66v-15.7h6.5v15.7zm20,0v-34.7h6.5v34.7zm20,0v-34.7h6.5v34.7zm20,0v-0.8h6.5v0.8zm20,0v-1.7h6.5v1.7z"/>
<text class="st" x="66.25" y="53">*</text></g></g>

<g id="plot-4"><text class="cs" x="755" y="504">④</text><rect class="mb" x="787" y="489" width="29" height="8"/><text class="loc" x="786" y="506">LOC_Os06g40640</text>
<g class="ct" transform="translate(760,510) scale(1.15,0.88)"><use href="#fr"/><use href="#y2"/><use href="#yle"/>
<path class="er" d="M6.25,66v-38m20,38v-13.9m20,13.9v-4m20,4v-16.5m20,16.5v-49.5"/><path class="eb" d="M13.75,66v-34m20,34v-14.9m20,14.9v-5.9m20,5.9v-28.1m20,28.1v-35.3"/>
<path class="r" d="M3,66v-28.7h6.5v28.7zm20,0v-11.6h6.5v11.6zm20,0v-3.3h6.5v3.3zm20,0v-9.9h6.5v9.9zm20,0v-37h6.5v37z"/><path class="b" d="M10.5,66v-28.1h6.5v28.1zm20,0v-12.2h6.5v12.2zm20,0v-5h6.5v5zm20,0v-18.2h6.5v18.2zm20,0v-27.4h6.5v27.4z"/></g></g>

<g id="plot-4p"><text class="cs" x="884" y="503">④</text><text class="prs" x="891" y="501">′</text><rect class="mb" x="912" y="484" width="29" height="8"/><text class="loc" x="910" y="500">LOC_Os08g02700</text>
<g class="ct" transform="translate(888,502) scale(1.03,1)"><use href="#fr"/><use href="#y10"/><use href="#yle"/>
<path class="er" d="M6.25,66v-17.2m20,17.2v-41.6m20,41.6v-60.1m20,60.1v-5.3m20,5.3v-6.6"/><path class="eb" d="M13.75,66v-19.8m20,19.8v-40.9m20,40.9v-33m20,33v-9.9m20,9.9v-3.3"/>
<path class="r" d="M3,66v-15.2h6.5v15.2zm20,0v-33h6.5v33zm20,0v-54.1h6.5v54.1zm20,0v-4.6h6.5v4.6zm20,0v-5.9h6.5v5.9z"/><path class="b" d="M10.5,66v-16.5h6.5v16.5zm20,0v-31h6.5v31zm20,0v-30.4h6.5v30.4zm20,0v-5.3h6.5v5.3zm20,0v-2.3h6.5v2.3z"/>
<text class="st" x="53.75" y="36.5">*</text></g></g>

<g id="plot-5"><text class="cs" x="756" y="599">⑤</text><rect class="mb" x="786" y="578" width="29" height="8"/><text class="loc" x="785" y="596">LOC_Os04g38600</text>
<g class="ct" transform="translate(760,598) scale(1.13,1.03)"><use href="#fr"/><use href="#y2"/><use href="#yle"/>
<path class="er" d="M6.25,66v-37m20,37v-20.8m20,20.8v-5m20,5v-9.9m20,9.9v-53.5"/><path class="eb" d="M13.75,66v-27.7m20,27.7v-15.5m20,15.5v-6.6m20,6.6v-11.6m20,11.6v-23.1"/>
<path class="r" d="M3,66v-26.4h6.5v26.4zm20,0v-16.5h6.5v16.5zm20,0v-4h6.5v4zm20,0v-7.3h6.5v7.3zm20,0v-38.9h6.5v38.9z"/><path class="b" d="M10.5,66v-25.4h6.5v25.4zm20,0v-13.2h6.5v13.2zm20,0v-5h6.5v5zm20,0v-9.2h6.5v9.2zm20,0v-18.8h6.5v18.8z"/></g></g>

<g id="plot-5p"><text class="cs" x="884" y="598">⑤</text><text class="prs" x="891" y="596">′</text><rect class="mb" x="912" y="580" width="29" height="8"/><text class="loc" x="911" y="596">LOC_Os11g47840</text>
<g class="ct" transform="translate(888,598) scale(1.06,1.03)"><use href="#fr"/><use href="#y20"/><use href="#yle"/>
<path class="er" d="M6.25,66v-9.9m20,9.9v-25.1m20,25.1v-57.8m20,57.8v-11.6m20,11.6v-5.6"/><path class="eb" d="M13.75,66v-8.3m20,8.3v-29.7m20,29.7v-23.8m20,23.8v-7.6m20,7.6v-4.3"/>
<path class="r" d="M3,66v-6.6h6.5v6.6zm20,0v-23.8h6.5v23.8zm20,0v-42.2h6.5v42.2zm20,0v-8.9h6.5v8.9zm20,0v-4.3h6.5v4.3z"/><path class="b" d="M10.5,66v-6.6h6.5v6.6zm20,0v-22.1h6.5v22.1zm20,0v-19.5h6.5v19.5zm20,0v-5.9h6.5v5.9zm20,0v-3.3h6.5v3.3z"/></g></g>

<g id="plot-6"><text class="cs" x="755" y="694">⑥</text><rect class="mb" x="788" y="674" width="29" height="8"/><text class="loc" x="785" y="690">LOC_Os05g41640</text>
<g class="ct" transform="translate(760,693) scale(1.13,1.015)"><use href="#fr"/><use href="#y15"/><use href="#yle"/>
<path class="er" d="M6.25,66v-44m20,44v-31.7m20,31.7v-12.3m20,12.3v-15.4m20,15.4v-40.9"/><path class="eb" d="M13.75,66v-37m20,37v-28.2m20,28.2v-14.5m20,14.5v-24.6m20,24.6v-43.6"/>
<path class="r" d="M3,66v-31.7h6.5v31.7zm20,0v-23.3h6.5v23.3zm20,0v-9.2h6.5v9.2zm20,0v-11.4h6.5v11.4zm20,0v-33h6.5v33z"/><path class="b" d="M10.5,66v-32.1h6.5v32.1zm20,0v-19.8h6.5v19.8zm20,0v-11.4h6.5v11.4zm20,0v-18.5h6.5v18.5zm20,0v-32.1h6.5v32.1z"/></g></g>

<g id="plot-6p"><text class="cs" x="884" y="693">⑥</text><text class="prs" x="891" y="691">′</text><rect class="mb" x="913" y="676" width="29" height="8"/><text class="loc" x="910" y="691">LOC_Os05g09500</text>
<g class="ct" transform="translate(888,693) scale(1.06,1.015)"><use href="#fr"/><use href="#y8"/><use href="#yle"/>
<path class="er" d="M6.25,66v-24.8m20,24.8v-28m20,28v-44.6m20,44.6v-9.9m20,9.9v-7.4"/><path class="eb" d="M13.75,66v-33m20,33v-52m20,52v-50.3m20,50.3v-21.5m20,21.5v-28.9"/>
<path class="r" d="M3,66v-19.8h6.5v19.8zm20,0v-20.6h6.5v20.6zm20,0v-37.1h6.5v37.1zm20,0v-7.4h6.5v7.4zm20,0v-5h6.5v5z"/><path class="b" d="M10.5,66v-28.9h6.5v28.9zm20,0v-44.6h6.5v44.6zm20,0v-34.7h6.5v34.7zm20,0v-16.5h6.5v16.5zm20,0v-23.9h6.5v23.9z"/>
<text class="st" x="33.75" y="17.5">*</text></g></g>

<g id="plot-7a"><text class="cs" x="752" y="824">⑦</text><rect class="mb" x="784" y="805" width="29" height="8"/><text class="loc" x="779" y="821">LOC_Os12g38100</text>
<g class="ct" transform="translate(767,823) scale(1.02,1.015)"><use href="#fr"/><use href="#y8"/><use href="#yle"/>
<path class="er" d="M6.25,66v-37.1m20,37.1v-42.1m20,42.1v-41.3m20,41.3v-38.8m20,38.8v-24.8"/><path class="eb" d="M13.75,66v-51.2m20,51.2v-46.2m20,46.2v-53.6m20,53.6v-19m20,19v-9.9"/>
<path class="r" d="M3,66v-31.4h6.5v31.4zm20,0v-30.5h6.5v30.5zm20,0v-31.4h6.5v31.4zm20,0v-29.7h6.5v29.7zm20,0v-20.6h6.5v20.6z"/><path class="b" d="M10.5,66v-41.3h6.5v41.3zm20,0v-35.5h6.5v35.5zm20,0v-42.1h6.5v42.1zm20,0v-14h6.5v14zm20,0v-8.3h6.5v8.3z"/></g></g>

<g id="plot-7b"><text class="cs" x="883" y="824">⑦</text><rect class="mb" x="912" y="803" width="29" height="8"/><text class="loc" x="908" y="818">LOC_Os06g04510</text>
<g class="ct" transform="translate(896,823) scale(1,1.015)"><use href="#fr"/><use href="#y30"/><use href="#yle"/>
<path class="er" d="M6.25,66v-12.1m20,12.1v-61.6m20,61.6v-36.3m20,36.3v-6.6m20,6.6v-4"/><path class="eb" d="M13.75,66v-8.8m20,8.8v-46.2m20,46.2v-24.2m20,24.2v-18.7m20,18.7v-2.6"/>
<path class="r" d="M3,66v-8.8h6.5v8.8zm20,0v-55.9h6.5v55.9zm20,0v-27.9h6.5v27.9zm20,0v-4.8h6.5v4.8zm20,0v-2.6h6.5v2.6z"/><path class="b" d="M10.5,66v-6.6h6.5v6.6zm20,0v-36.1h6.5v36.1zm20,0v-22.9h6.5v22.9zm20,0v-12.5h6.5v12.5zm20,0v-1.5h6.5v1.5z"/></g></g>

<g id="plot-8a"><text class="cs" x="756" y="922">⑧</text><rect class="mb" x="784" y="903" width="29" height="8"/><text class="loc" x="781" y="919">LOC_Os01g16960</text>
<g class="ct" transform="translate(767,922) scale(1.02,1.015)"><use href="#fr"/><use href="#y8"/><use href="#yle"/>
<path class="er" d="M6.25,66v-14.9m20,14.9v-46.2m20,46.2v-62.7m20,62.7v-28.9m20,28.9v-11.6"/><path class="eb" d="M13.75,66v-9.9m20,9.9v-29.7m20,29.7v-41.3m20,41.3v-19m20,19v-13.2"/>
<path class="r" d="M3,66v-11.6h6.5v11.6zm20,0v-35.5h6.5v35.5zm20,0v-52h6.5v52zm20,0v-24.8h6.5v24.8zm20,0v-8.3h6.5v8.3z"/><path class="b" d="M10.5,66v-5.8h6.5v5.8zm20,0v-18.2h6.5v18.2zm20,0v-38.8h6.5v38.8zm20,0v-16.5h6.5v16.5zm20,0v-11.6h6.5v11.6z"/>
<text class="st" x="13.75" y="59.6">*</text></g></g>

<g id="plot-8b"><text class="cs" x="883" y="922">⑧</text><rect class="mb" x="914" y="904" width="29" height="8"/><text class="loc" x="910" y="918">LOC_Os04g58110</text>
<g class="ct" transform="translate(896,922) scale(1,1.015)"><use href="#fr"/><use href="#y8"/><use href="#yle"/>
<path class="er" d="M6.25,66v-32.2m20,32.2v-56.1m20,56.1v-35.5m20,35.5v-14.9m20,14.9v-14"/><path class="eb" d="M13.75,66v-40.4m20,40.4v-56.9m20,56.9v-47.9m20,47.9v-13.2m20,13.2v-15.7"/>
<path class="r" d="M3,66v-27.2h6.5v27.2zm20,0v-48.7h6.5v48.7zm20,0v-29.7h6.5v29.7zm20,0v-9.1h6.5v9.1zm20,0v-12.4h6.5v12.4z"/><path class="b" d="M10.5,66v-28.9h6.5v28.9zm20,0v-48.7h6.5v48.7zm20,0v-30.5h6.5v30.5zm20,0v-7.4h6.5v7.4zm20,0v-7.4h6.5v7.4z"/></g></g>

<g id="plot-21"><text class="cs" x="1000" y="809">㉑</text><rect class="mb" x="1031" y="795" width="29" height="8"/><text class="loc" x="1027" y="810">LOC_Os06g44460</text>
<g class="ct" transform="translate(1014,813) scale(0.96,0.955)"><use href="#fr"/><use href="#y15"/><use href="#yle"/>
<path class="er" d="M6.25,66v-30.8m20,30.8v-12.3m20,12.3v-15.8m20,15.8v-57.2m20,57.2v-50.2"/><path class="eb" d="M13.75,66v-20.7m20,20.7v-12.3m20,12.3v-12.3m20,12.3v-39.6m20,39.6v-36.5"/>
<path class="r" d="M3,66v-24.2h6.5v24.2zm20,0v-11.9h6.5v11.9zm20,0v-8.4h6.5v8.4zm20,0v-51.5h6.5v51.5zm20,0v-44h6.5v44z"/><path class="b" d="M10.5,66v-20.2h6.5v20.2zm20,0v-10.6h6.5v10.6zm20,0v-11.4h6.5v11.4zm20,0v-35.6h6.5v35.6zm20,0v-31.7h6.5v31.7z"/></g></g>

<g id="plot-17"><text class="cs" x="354" y="679">⑰</text><rect class="mb" x="382" y="660" width="29" height="8"/><text class="loc" x="381" y="677">LOC_Os01g06660</text>
<g class="ct" transform="translate(363,681) scale(1.06,1)"><use href="#fr"/><use href="#y10"/><use href="#yle"/>
<path class="er" d="M6.25,66v-13.2m20,13.2v-15.2m20,15.2v-53.5m20,53.5v-23.1m20,23.1v-7.9"/><path class="eb" d="M13.75,66v-7.9m20,7.9v-21.1m20,21.1v-42.9m20,42.9v-16.5m20,16.5v-7.3"/>
<path class="r" d="M3,66v-10.6h6.5v10.6zm20,0v-14.5h6.5v14.5zm20,0v-44.2h6.5v44.2zm20,0v-15.8h6.5v15.8zm20,0v-6.6h6.5v6.6z"/><path class="b" d="M10.5,66v-7.3h6.5v7.3zm20,0v-16.5h6.5v16.5zm20,0v-40.3h6.5v40.3zm20,0v-11.9h6.5v11.9zm20,0v-5.9h6.5v5.9z"/></g></g>

<g id="plot-10"><text class="cs" x="620" y="1132">⑩</text><rect class="mb" x="654" y="1117" width="29" height="8"/><rect class="mo" x="693" y="1117" width="29" height="8"/><text class="loc" x="649" y="1134">LOC_Os07g43700</text>
<g class="ct" transform="translate(635,1134) scale(1.02,0.99)"><use href="#fr"/><use href="#y15"/><use href="#yle"/>
<path class="er" d="M6.25,66v-22.9m20,22.9v-8.8m20,8.8v-1.3m20,1.3v-7.5m20,7.5v-44"/><path class="eb" d="M13.75,66v-20.7m20,20.7v-8.8m20,8.8v-5.3m20,5.3v-4.4m20,4.4v-25.5"/>
<path class="r" d="M3,66v-16.3h6.5v16.3zm20,0v-6.2h6.5v6.2zm20,0v-0.9h6.5v0.9zm20,0v-6.2h6.5v6.2zm20,0v-35.2h6.5v35.2z"/><path class="b" d="M10.5,66v-18.9h6.5v18.9zm20,0v-7.9h6.5v7.9zm20,0v-4.4h6.5v4.4zm20,0v-4h6.5v4zm20,0v-20.7h6.5v20.7z"/>
<text class="st" x="53.75" y="63">*</text></g></g>

<g id="plot-11"><text class="cs" x="841" y="1072">⑪</text><rect class="mo" x="918" y="1057" width="29" height="8"/><text class="loc" x="864" y="1071">LOC_Os01g69030</text>
<g class="ct" transform="translate(843,1074) scale(1.07,1.015)"><use href="#fr"/><use href="#y3"/><use href="#yle"/>
<path class="er" d="M6.25,66v-52.8m20,52.8v-33m20,33v-27.5m20,27.5v-6.6m20,6.6v-13.2"/><path class="eb" d="M13.75,66v-55m20,55v-37.4m20,37.4v-28.6m20,28.6v-2.2m20,2.2v-17.6"/>
<path class="r" d="M3,66v-40.7h6.5v40.7zm20,0v-23.1h6.5v23.1zm20,0v-18h6.5v18zm20,0v-3.3h6.5v3.3zm20,0v-8.8h6.5v8.8z"/><path class="b" d="M10.5,66v-33h6.5v33zm20,0v-26.4h6.5v26.4zm20,0v-13.6h6.5v13.6zm20,0v-1.1h6.5v1.1zm20,0v-13.2h6.5v13.2z"/></g></g>

<g id="plot-9"><text class="cs" x="841" y="1174">⑨</text><rect class="mb" x="872" y="1158" width="29" height="8"/><text class="loc" x="870" y="1173">LOC_Os04g40310</text>
<g class="ct" transform="translate(857,1175) scale(0.93,1.04)"><use href="#fr"/><use href="#y10"/><use href="#yle"/>
<path class="er" d="M6.25,66v-17.2m20,17.2v-42.9m20,42.9v-54.1m20,54.1v-13.2m20,13.2v-6.6"/><path class="eb" d="M13.75,66v-19.1m20,19.1v-44.9m20,44.9v-36.3m20,36.3v-7.9m20,7.9v-6.6"/>
<path class="r" d="M3,66v-13.9h6.5v13.9zm20,0v-37.6h6.5v37.6zm20,0v-38.3h6.5v38.3zm20,0v-10.6h6.5v10.6zm20,0v-5.6h6.5v5.6z"/><path class="b" d="M10.5,66v-17.2h6.5v17.2zm20,0v-37h6.5v37zm20,0v-30.4h6.5v30.4zm20,0v-7.3h6.5v7.3zm20,0v-5.6h6.5v5.6z"/></g></g>

<g id="plot-12a"><text class="cs" x="1043" y="1050">⑫</text><rect class="mo" x="1117" y="1031" width="29" height="8"/><text class="da" x="1147" y="1041">DA</text><text class="loc" x="1066" y="1048">LOC_Os07g46930</text>
<g class="ct" transform="translate(1053,1053) scale(1.02,1)"><use href="#fr"/><use href="#y3"/><use href="#yle"/>
<path class="er" d="M6.25,66v-12.1m20,12.1v-3.3m20,3.3v-1.8m20,1.8v-10.6m20,10.6v-5.9"/><path class="eb" d="M13.75,66v-53.9m20,53.9v-25.7m20,25.7v-8.4m20,8.4v-13.6m20,13.6v-5.9"/>
<path class="r" d="M3,66v-11h6.5v11zm20,0v-2.2h6.5v2.2zm20,0v-1.1h6.5v1.1zm20,0v-8.4h6.5v8.4zm20,0v-4.8h6.5v4.8z"/><path class="b" d="M10.5,66v-39.6h6.5v39.6zm20,0v-18.7h6.5v18.7zm20,0v-6.6h6.5v6.6zm20,0v-11.4h6.5v11.4zm20,0v-4.8h6.5v4.8z"/>
<text class="st" x="73.75" y="55.9">*</text></g></g>

<g id="plot-12b"><text class="cs" x="1043" y="1150">⑫</text><rect class="mb" x="1071" y="1130" width="29" height="8"/><rect class="mo" x="1123" y="1130" width="29" height="8"/><text class="loc" x="1066" y="1148">LOC_Os07g37420</text>
<g class="ct" transform="translate(1053,1153) scale(1.02,0.955)"><use href="#fr"/><use href="#y08"/><use href="#yle"/>
<path class="er" d="M6.25,66v-30.5m20,30.5v-11.6m20,11.6v-31.4m20,31.4v-9.1m20,9.1v-42.1"/><path class="eb" d="M13.75,66v-54.5m20,54.5v-22.3m20,22.3v-22.3m20,22.3v-6.6m20,6.6v-30.5"/>
<path class="r" d="M3,66v-28h6.5v28zm20,0v-9.1h6.5v9.1zm20,0v-19.8h6.5v19.8zm20,0v-9.1h6.5v9.1zm20,0v-33h6.5v33z"/><path class="b" d="M10.5,66v-41.3h6.5v41.3zm20,0v-14.9h6.5v14.9zm20,0v-14.9h6.5v14.9zm20,0v-5h6.5v5zm20,0v-24.8h6.5v24.8z"/></g></g>

<g id="plot-12c"><text class="cs" x="1043" y="1241">⑫</text><rect class="mb" x="1071" y="1227" width="29" height="8"/><text class="loc" x="1067" y="1243">LOC_Os03g61740</text>
<g class="ct" transform="translate(1053,1243) scale(1.03,1)"><use href="#fr"/><use href="#y6"/><use href="#yle"/>
<path class="er" d="M6.25,66v-4.6m20,4.6v-2.2m20,2.2v-1.3m20,1.3v-57.2m20,57.2v-36.9"/><path class="eb" d="M13.75,66v-1.7m20,1.7v-1.7m20,1.7v-1.1m20,1.1v-9.9m20,9.9v-22"/>
<path class="r" d="M3,66v-3.3h6.5v3.3zm20,0v-1.7h6.5v1.7zm20,0v-1.1h6.5v1.1zm20,0v-40.7h6.5v40.7zm20,0v-25.3h6.5v25.3z"/><path class="b" d="M10.5,66v-1.3h6.5v1.3zm20,0v-1.3h6.5v1.3zm20,0v-1.1h6.5v1.1zm20,0v-9.4h6.5v9.4zm20,0v-16h6.5v16z"/>
<text class="st" x="13.75" y="66">*</text></g></g>
</g>

<g id="metabolite-plots">
<g id="node-galactinol"><rect class="mb" x="465" y="286" width="29" height="8"/><rect class="mo" x="516" y="286" width="29" height="8"/><rect class="bx" x="428" y="298" width="130" height="83" rx="9"/><text class="n" x="456" y="395">galactinol</text>
<g class="ct" transform="translate(441,302) scale(1.08,1)"><use href="#fr"/><use href="#y8"/><use href="#yla"/>
<path class="er" d="M6.25,66v-26.4m20,26.4v-37.1m20,37.1v-56.9m20,56.9v-25.6m20,25.6v-19.8"/><path class="eb" d="M13.75,66v-28.9m20,28.9v-28.9m20,28.9v-60.2m20,60.2v-17.3m20,17.3v-11.6"/>
<path class="r" d="M3,66v-23.1h6.5v23.1zm20,0v-28.1h6.5v28.1zm20,0v-48.7h6.5v48.7zm20,0v-22.3h6.5v22.3zm20,0v-16.5h6.5v16.5z"/><path class="b" d="M10.5,66v-26.4h6.5v26.4zm20,0v-26.4h6.5v26.4zm20,0v-50.3h6.5v50.3zm20,0v-14.9h6.5v14.9zm20,0v-9.1h6.5v9.1z"/>
<text class="st" x="13.75" y="40.6">*</text><text class="st" x="73.75" y="52.2">*</text><text class="st" x="93.75" y="57.9">*</text></g></g>

<g id="node-fructose-6-p"><rect class="mb" x="634" y="313" width="29" height="8"/><rect class="bx" x="601" y="323" width="131" height="84" rx="9"/><text class="n" x="630" y="420">fructose-6-p</text>
<g class="ct" transform="translate(619,329) scale(1.06,1.015)"><use href="#fr"/><use href="#y15"/><use href="#yla"/>
<path class="er" d="M6.25,66v-31.7m20,31.7v-34.3m20,34.3v-24.6m20,24.6v-27.7m20,27.7v-27.3"/><path class="eb" d="M13.75,66v-36.5m20,36.5v-44.9m20,44.9v-25.1m20,25.1v-32.1m20,32.1v-40.5"/>
<path class="r" d="M3,66v-27.7h6.5v27.7zm20,0v-29.9h6.5v29.9zm20,0v-20.7h6.5v20.7zm20,0v-24.6h6.5v24.6zm20,0v-23.3h6.5v23.3z"/><path class="b" d="M10.5,66v-30.8h6.5v30.8zm20,0v-35.2h6.5v35.2zm20,0v-15.4h6.5v15.4zm20,0v-29.9h6.5v29.9zm20,0v-33.9h6.5v33.9z"/></g></g>

<g id="node-udp-glucuronic"><rect class="mb" x="181" y="390" width="29" height="8"/><rect class="bx" x="150" y="401" width="132" height="82" rx="9"/><text class="n" x="140" y="498">UDP-glucuronic Acid</text>
<g class="ct" transform="translate(172,406) scale(1.03,1.015)"><use href="#fr"/><use href="#y15"/><use href="#yla"/>
<path class="er" d="M6.25,66v-24.2m20,24.2v-22m20,22v-33m20,33v-43.1m20,43.1v-33"/><path class="eb" d="M13.75,66v-24.2m20,24.2v-24.2m20,24.2v-29.9m20,29.9v-46.2m20,46.2v-40.9"/>
<path class="r" d="M3,66v-19.8h6.5v19.8zm20,0v-18.9h6.5v18.9zm20,0v-26.8h6.5v26.8zm20,0v-32.1h6.5v32.1zm20,0v-27.3h6.5v27.3z"/><path class="b" d="M10.5,66v-18h6.5v18zm20,0v-19.4h6.5v19.4zm20,0v-26.8h6.5v26.8zm20,0v-39.6h6.5v39.6zm20,0v-36.5h6.5v36.5z"/></g></g>

<g id="node-allantoin"><rect class="mo" x="205" y="609" width="29" height="8"/><rect class="bx" x="112" y="618" width="128" height="88" rx="9"/><text class="n" x="152" y="720">allantoin</text>
<g class="ct" transform="translate(135,626) scale(1.02,1.015)"><use href="#fr"/><use href="#y1"/><use href="#yla"/>
<path class="er" d="M6.25,66v-48.2m20,48.2v-57.4m20,57.4v-41.6m20,41.6v-31.7m20,31.7v-45.5"/><path class="eb" d="M13.75,66v-48.8m20,48.8v-48.2m20,48.2v-28.4m20,28.4v-29.7m20,29.7v-42.2"/>
<path class="r" d="M3,66v-42.2h6.5v42.2zm20,0v-47.5h6.5v47.5zm20,0v-36.3h6.5v36.3zm20,0v-29h6.5v29zm20,0v-40.9h6.5v40.9z"/><path class="b" d="M10.5,66v-43.6h6.5v43.6zm20,0v-37h6.5v37zm20,0v-25.1h6.5v25.1zm20,0v-27.7h6.5v27.7zm20,0v-37.6h6.5v37.6z"/></g></g>

<g id="node-glycerate-3-p"><rect class="mb" x="625" y="694" width="29" height="8"/><rect class="mo" x="672" y="694" width="29" height="8"/><rect class="bx" x="599" y="705" width="141" height="85" rx="9"/><text class="n" x="622" y="804">glycerate-3-p</text>
<g class="ct" transform="translate(624,712) scale(1.03,1.01)"><use href="#fr"/><use href="#y25"/><use href="#yla"/>
<path class="er" d="M6.25,66v-10.6m20,10.6v-21.1m20,21.1v-17.2m20,17.2v-11.1m20,11.1v-19"/><path class="eb" d="M13.75,66v-14.5m20,14.5v-25.1m20,25.1v-25.1m20,25.1v-13.2m20,13.2v-51.5"/>
<path class="r" d="M3,66v-8.7h6.5v8.7zm20,0v-18.5h6.5v18.5zm20,0v-13.7h6.5v13.7zm20,0v-9.2h6.5v9.2zm20,0v-16.4h6.5v16.4z"/><path class="b" d="M10.5,66v-11.9h6.5v11.9zm20,0v-22.4h6.5v22.4zm20,0v-22.4h6.5v22.4zm20,0v-11.6h6.5v11.6zm20,0v-42.2h6.5v42.2z"/>
<text class="st" x="93.75" y="18">*</text></g></g>

<g id="node-serine"><rect class="mb" x="1113" y="696" width="29" height="8"/><rect class="bx" x="1078" y="705" width="131" height="83" rx="9"/><text class="n" x="1140" y="806">serine</text>
<g class="ct" transform="translate(1100,712) scale(1.02,1)"><use href="#fr"/><use href="#y15"/><use href="#yla"/>
<path class="er" d="M6.25,66v-23.3m20,23.3v-27.3m20,27.3v-20.7m20,20.7v-26.4m20,26.4v-32.6"/><path class="eb" d="M13.75,66v-29.9m20,29.9v-24.2m20,24.2v-22m20,22v-33.9m20,33.9v-58.5"/>
<path class="r" d="M3,66v-12.8h6.5v12.8zm20,0v-15.8h6.5v15.8zm20,0v-17.2h6.5v17.2zm20,0v-24.6h6.5v24.6zm20,0v-30.8h6.5v30.8z"/><path class="b" d="M10.5,66v-26.4h6.5v26.4zm20,0v-22h6.5v22zm20,0v-20.2h6.5v20.2zm20,0v-22.9h6.5v22.9zm20,0v-50.6h6.5v50.6z"/>
<text class="st" x="13.75" y="39.6">*</text></g></g>

<g id="node-indole"><rect class="mo" x="553" y="727" width="29" height="8"/><rect class="bx" x="471" y="737" width="122" height="83" rx="9"/><text class="n" x="515" y="835">indole</text>
<g class="ct" transform="translate(489,743) scale(0.98,1.02)"><use href="#fr"/><use href="#y8"/><use href="#yla"/>
<path class="er" d="M6.25,66v-15.7m20,15.7v-15.7m20,15.7v-18.2m20,18.2v-49.5m20,49.5v-30.5"/><path class="eb" d="M13.75,66v-11.6m20,11.6v-17.3m20,17.3v-20.6m20,20.6v-33m20,33v-30.5"/>
<path class="r" d="M3,66v-12.4h6.5v12.4zm20,0v-11.6h6.5v11.6zm20,0v-14h6.5v14zm20,0v-39.6h6.5v39.6zm20,0v-27.2h6.5v27.2z"/><path class="b" d="M10.5,66v-10.7h6.5v10.7zm20,0v-15.7h6.5v15.7zm20,0v-16.5h6.5v16.5zm20,0v-29.7h6.5v29.7zm20,0v-19h6.5v19z"/></g></g>

<g id="node-l-tryptophan"><rect class="mo" x="348" y="763" width="29" height="8"/><rect class="bx" x="262" y="773" width="131" height="83" rx="9"/><text class="n" x="281" y="870">L-tryptophan</text>
<g class="ct" transform="translate(280,779) scale(1.03,1.015)"><use href="#fr"/><use href="#y8"/><use href="#yla"/>
<path class="er" d="M6.25,66v-14.9m20,14.9v-16.5m20,16.5v-21.5m20,21.5v-52.8m20,52.8v-37.1"/><path class="eb" d="M13.75,66v-12.8m20,12.8v-21.5m20,21.5v-24.8m20,24.8v-44.6m20,44.6v-30.5"/>
<path class="r" d="M3,66v-12.4h6.5v12.4zm20,0v-12.4h6.5v12.4zm20,0v-16.5h6.5v16.5zm20,0v-42.9h6.5v42.9zm20,0v-32.2h6.5v32.2z"/><path class="b" d="M10.5,66v-12h6.5v12zm20,0v-18.2h6.5v18.2zm20,0v-20.6h6.5v20.6zm20,0v-34.7h6.5v34.7zm20,0v-23.9h6.5v23.9z"/></g></g>

<g id="node-serotonin"><rect class="mo" x="208" y="890" width="29" height="8"/><text class="da" x="239" y="898">DA</text><rect class="bx" x="133" y="900" width="122" height="83" rx="9"/><text class="n" x="163" y="999">serotonin</text>
<g class="ct" transform="translate(152,906) scale(1.0,1.015)"><use href="#fr"/><use href="#y6"/><use href="#yla"/>
<path class="er" d="M6.25,66v-19.8m20,19.8v-12.1m20,12.1v-14.9m20,14.9v-34.1m20,34.1v-60.5"/><path class="eb" d="M13.75,66v-9.4m20,9.4v-13.8m20,13.8v-11m20,11v-17.6m20,17.6v-18.7"/>
<path class="r" d="M3,66v-13.2h6.5v13.2zm20,0v-7.7h6.5v7.7zm20,0v-8.8h6.5v8.8zm20,0v-28.6h6.5v28.6zm20,0v-42.9h6.5v42.9z"/><path class="b" d="M10.5,66v-7.2h6.5v7.2zm20,0v-8.8h6.5v8.8zm20,0v-8.8h6.5v8.8zm20,0v-14.9h6.5v14.9zm20,0v-14.9h6.5v14.9z"/>
<text class="st" x="73.75" y="51.9">*</text><text class="st" x="93.75" y="50.8">*</text></g></g>

<g id="node-malic-acid"><rect class="mb" x="486" y="1175" width="29" height="8"/><rect class="bx" x="451" y="1186" width="132" height="83" rx="9"/><text class="n" x="485" y="1285">malic acid</text>
<g class="ct" transform="translate(474,1191) scale(1.02,1.015)"><use href="#fr"/><use href="#y25"/><use href="#yla"/>
<path class="er" d="M6.25,66v-38.8m20,38.8v-35.6m20,35.6v-44.9m20,44.9v-2.6m20,2.6v-33.5"/><path class="eb" d="M13.75,66v-30.4m20,30.4v-40.1m20,40.1v-37m20,37v-45.4m20,45.4v-52.8"/>
<path class="r" d="M3,66v-31.7h6.5v31.7zm20,0v-30.4h6.5v30.4zm20,0v-36.2h6.5v36.2zm20,0v-1.8h6.5v1.8zm20,0v-17.2h6.5v17.2z"/><path class="b" d="M10.5,66v-28.2h6.5v28.2zm20,0v-32.2h6.5v32.2zm20,0v-31.7h6.5v31.7zm20,0v-42.2h6.5v42.2zm20,0v-28.2h6.5v28.2z"/></g></g>

<g id="node-glutamate"><rect class="mb" x="927" y="1267" width="29" height="8"/><rect class="mo" x="981" y="1267" width="29" height="8"/><rect class="bx" x="893" y="1278" width="132" height="84" rx="9"/><text class="n" x="926" y="1378">glutamate</text>
<g class="ct" transform="translate(914,1283) scale(1.03,1.015)"><use href="#fr"/><use href="#y8"/><use href="#yla"/>
<path class="er" d="M6.25,66v-19.8m20,19.8v-14m20,14v-12.4m20,12.4v-19m20,19v-32.2"/><path class="eb" d="M13.75,66v-28m20,28v-46.2m20,46.2v-39.6m20,39.6v-39.6m20,39.6v-55.3"/>
<path class="r" d="M3,66v-18.2h6.5v18.2zm20,0v-11.6h6.5v11.6zm20,0v-9.1h6.5v9.1zm20,0v-8.3h6.5v8.3zm20,0v-25.6h6.5v25.6z"/><path class="b" d="M10.5,66v-25.6h6.5v25.6zm20,0v-33h6.5v33zm20,0v-32.2h6.5v32.2zm20,0v-19.8h6.5v19.8zm20,0v-48.7h6.5v48.7z"/>
<text class="st" x="13.75" y="41.5">*</text><text class="st" x="33.75" y="23.3">*</text><text class="st" x="53.75" y="29.9">*</text><text class="st" x="93.75" y="14.2">*</text></g></g>
</g>

<g id="legend">
<rect x="412" y="1409" width="700" height="118" fill="#fff" stroke="#111" stroke-width="2.5"/>
<text class="lg" x="422" y="1434" style="font-size:21px">Symbol legend<tspan dx="4">:</tspan></text>
<rect x="425" y="1443" width="31" height="10" fill="#ff0000"/>
<text class="lg" x="472" y="1455" style="font-size:19px">9311</text>
<rect x="426" y="1468" width="30" height="10" fill="#0000ff"/>
<text class="lg" x="472" y="1480" style="font-size:19px">DC90</text>
<rect class="mb" x="426" y="1500" width="30" height="8"/>
<text class="lg" x="472" y="1505"><tspan font-weight="normal">DEG/DAM</tspan> identified in chilling</text>
<text class="lg" x="472" y="1519">treatment</text>
<rect class="mo" x="765" y="1428" width="29" height="8"/>
<text class="lg" x="820" y="1433"><tspan font-weight="normal">DEG/DAM</tspan> identified in recovery</text>
<text class="lg" x="820" y="1448">treatment</text>
<text class="da" x="765" y="1475" style="font-size:12px">DA</text><rect class="mb" x="781" y="1466" width="30" height="8"/>
<text class="lg" x="820" y="1469">Chilling induced <tspan font-weight="normal">DEG/DAM</tspan> over-</text>
<text class="lg" x="820" y="1483">represented in OPLS-DA analysis</text>
<rect class="mo" x="764" y="1502" width="30" height="8"/><text class="da" x="794" y="1515" style="font-size:12px">DA</text>
<text class="lg" x="820" y="1504">Recovery induced <tspan font-weight="normal">DEG/DAM</tspan> over-</text>
<text class="lg" x="820" y="1519">represented in OPLS-DA analysis</text>
</g>

<g id="caption">
<text class="cap" x="25" y="1580" textLength="1311"><tspan font-weight="bold">FIGURE 3 |</tspan> Chilling- and/or recovery-induced DEGs and DAMs mapped to carbohydrate metabolism and their related pathways. The boxed bar plots represent the</text>
<text class="cap" x="25" y="1605" textLength="1311">metabolites with relative abundance alterations at certain timepoints in response to chilling (blue bar at the top) or recovery (orange bar at the top) treatment. The</text>
<text class="cap" x="25" y="1630" textLength="1311">relative expression level alteration plots of genes encoding related enzymes are numbered accordingly for the space limitation. The blue and orange bars at the top</text>
<text class="cap" x="25" y="1656" textLength="1311">of the plot represent the transcripts or metabolites that were significantly altered in response to chilling (blue bar) and/or recovery (orange bar) treatment. The plot of</text>
<text class="cap" x="25" y="1681" textLength="1272">transcripts or metabolites with green letters DA to the left of the blue bar or to the right of the orange bar represent transcript or metabolite members of</text>
<text class="cap" x="25" y="1706" textLength="1272">discriminatory DEGs/DAMs that play key roles in differentiating the chilling tolerance capacity of 9311 and DC90. The red and dashed arrows represent overall</text>
<text class="cap" x="25" y="1731" textLength="1302">upstream/downstream relationships and the conversion catalyzed by multiple steps in the related pathways, respectively. *Significant at <tspan font-style="italic">P</tspan> ≤ 0.05 level according to</text>
<text class="cap" x="25" y="1756">Student’s <tspan font-style="italic">t</tspan> test.</text>
</g>
</svg>
